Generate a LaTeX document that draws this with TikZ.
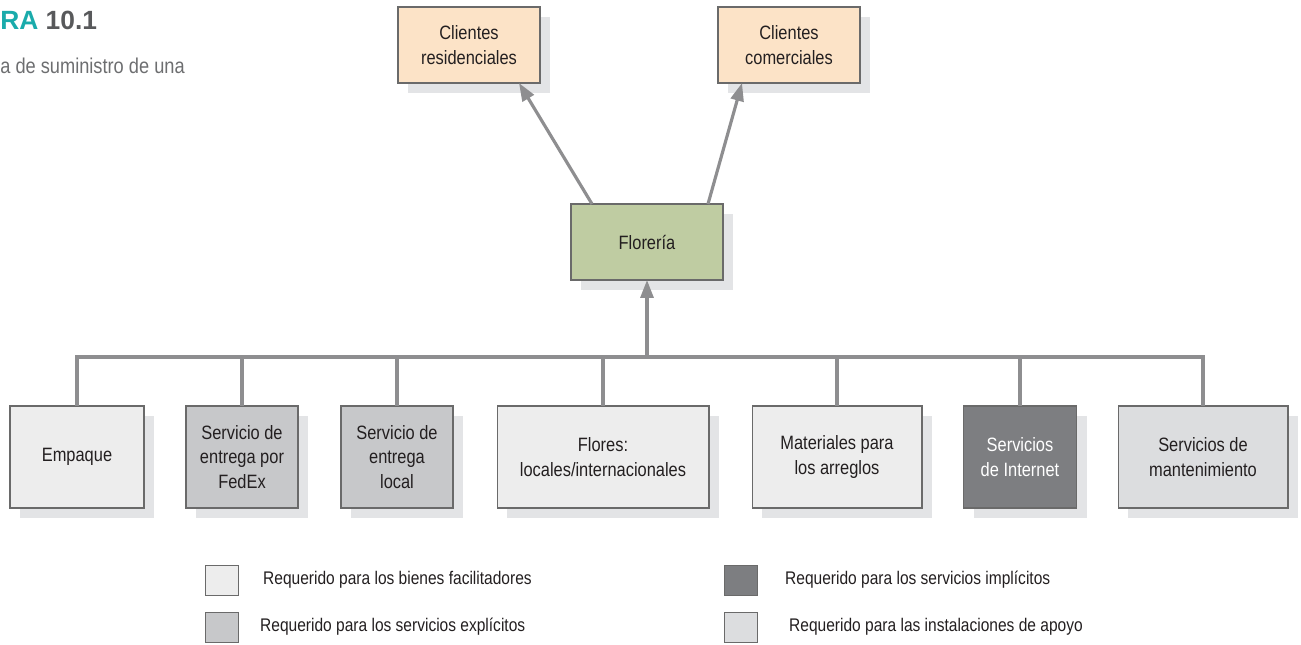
\documentclass[tikz,border=0pt]{standalone}
\usepackage{fontspec}
\setmainfont{Liberation Sans}[FakeStretch=0.85]
\newfontfamily\titlefont{Liberation Sans}
\usepackage{xcolor}
\usetikzlibrary{arrows.meta,positioning,calc,shadows}
\definecolor{peach}{HTML}{FCE3C7}
\definecolor{shopgreen}{HTML}{BFCCA2}
\definecolor{goodsgray}{HTML}{EDEDED}
\definecolor{explgray}{HTML}{C7C8CA}
\definecolor{implgray}{HTML}{7D7E81}
\definecolor{supgray}{HTML}{DCDDDF}
\definecolor{shadowgray}{HTML}{E3E4E6}
\definecolor{boxedge}{HTML}{6A6A6A}
\definecolor{linegray}{HTML}{8E8E90}
\definecolor{figteal}{HTML}{1AABAB}
\definecolor{titlegray}{HTML}{58595B}
\definecolor{subgray}{HTML}{6D6E70}
\definecolor{inkgray}{HTML}{231F20}
\tikzset{
  flowarr/.style={-{Triangle[length=3.6mm,width=2.6mm]}, line width=1.8pt, draw=linegray},
  treeline/.style={line width=1.8pt, draw=linegray},
  chainbox/.style={draw=boxedge, line width=0.6pt, align=center, inner sep=2pt, outer sep=0pt,
    text=inkgray,
    drop shadow={shadow xshift=0.2cm, shadow yshift=-0.2cm, fill=shadowgray, opacity=1}},
}

\begin{document}
\begin{tikzpicture}[
  x=0.02cm, y=-0.02cm,
  font=\fontsize{11}{14}\selectfont,
  topbox/.style={chainbox, minimum width=2.84cm, minimum height=1.52cm, fill=peach},
  lowbox/.style={chainbox, minimum height=2.04cm},
  legsq/.style={draw=boxedge, line width=0.5pt, minimum width=0.66cm, minimum height=0.6cm, inner sep=0pt},
  legtxt/.style={anchor=west, font=\fontsize{10.4}{13}\selectfont, text=inkgray},
]
  \useasboundingbox (0,0) rectangle (1301,645);

  \node[anchor=west, inner sep=0pt, font=\titlefont\bfseries\fontsize{15}{18}\selectfont] (fig) at (0,20)
    {\textcolor{figteal}{RA} \textcolor{titlegray}{10.1}};
  \node[anchor=west, inner sep=0pt, text=subgray, font=\fontsize{12.2}{14}\selectfont] (sub) at (0,66)
    {a de suministro de una};

  \node[topbox] (res) at (469,45) {Clientes\\residenciales};
  \node[topbox] (com) at (789,45) {Clientes\\comerciales};
  \node[chainbox, fill=shopgreen, minimum width=3.04cm, minimum height=1.52cm] (flor) at (647,242) {Florería};

  \node[lowbox, fill=goodsgray, minimum width=2.68cm] (emp) at (77,457) {Empaque};
  \node[lowbox, fill=explgray, minimum width=2.24cm] (fed) at (242,457) {Servicio de\\entrega por\\FedEx};
  \node[lowbox, fill=explgray, minimum width=2.24cm] (loc) at (397,457) {Servicio de\\entrega\\local};
  \node[lowbox, fill=goodsgray, minimum width=4.24cm] (flo) at (603,457) {Flores:\\locales/internacionales};
  \node[lowbox, fill=goodsgray, minimum width=3.4cm] (mat) at (837,457) {Materiales para\\los arreglos};
  \node[lowbox, fill=implgray, text=white, minimum width=2.26cm] (int) at (1020,457) {Servicios\\de Internet};
  \node[lowbox, fill=supgray, minimum width=3.4cm] (man) at (1203,457) {Servicios de\\mantenimiento};

  \coordinate (bus) at (647,357);
  \draw[treeline] (emp.north) |- (bus) -| (man.north);
  \foreach \b in {fed,loc,flo,mat,int}
    \draw[treeline] (\b.north) -- (\b.north |- bus);
  \draw[flowarr] (bus) -- (flor.south);
  \draw[flowarr] ([xshift=-1.1cm]flor.north) -- ([xshift=1.0cm]res.south);
  \draw[flowarr] ([xshift=1.22cm]flor.north) -- ([xshift=-0.94cm]com.south);

  \node[legsq, fill=goodsgray] (l1) at (222,580) {};
  \node[legsq, fill=explgray] (l2) at (222,627) {};
  \node[legsq, fill=implgray] (l3) at (741,580) {};
  \node[legsq, fill=supgray] (l4) at (741,627) {};
  \node[legtxt] (t1) at (257,580) {Requerido para los bienes facilitadores};
  \node[legtxt] (t2) at (254,627) {Requerido para los servicios explícitos};
  \node[legtxt] (t3) at (779,580) {Requerido para los servicios implícitos};
  \node[legtxt] (t4) at (783,627) {Requerido para las instalaciones de apoyo};
\end{tikzpicture}
\end{document}
